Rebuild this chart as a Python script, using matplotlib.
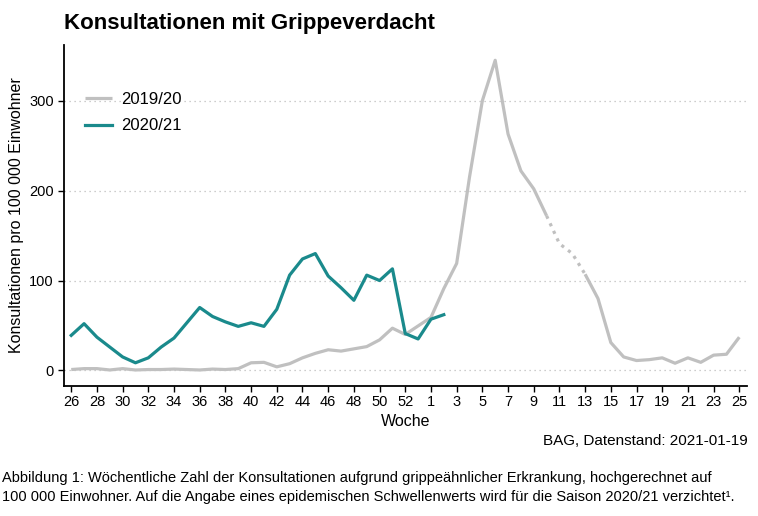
import matplotlib.pyplot as plt
import numpy as np

plt.rcParams['font.family'] = ['Liberation Sans', 'DejaVu Sans']

# Wochenachse (Saison 2020/21 mit Woche 53)
weeks = list(range(26, 54)) + list(range(1, 26))
tick_weeks = list(range(26, 53, 2)) + list(range(1, 26, 2))

# Saison 2019/20 (ohne Woche 53)
weeks_1920 = list(range(26, 53)) + list(range(1, 26))
vals_1920 = [1, 2, 2, 0.5, 2, 0.5, 1, 1, 1.5, 1, 0.5, 1.5, 1, 2,
             8.5, 9, 4, 7.5, 14, 19, 23, 21.5, 24, 26.5, 34, 47, 40,
             59, 91, 119, 215, 300, 345, 263, 222, 202, 172, 141, 130, 107,
             80, 31, 15, 11, 12, 14, 8, 14, 9, 17, 18, 37]
dotted_weeks = [10, 11, 12, 13]

# Saison 2020/21
weeks_2021 = list(range(26, 54)) + [1, 2]
vals_2021 = [39, 52, 37, 26, 15, 8.5, 14, 26, 36, 53, 70, 60, 54, 49, 53, 49,
             68, 106, 124, 130, 105, 92, 78, 106, 100, 113, 41, 35, 57, 62]

grey = '#C0C0C0'
teal = '#1A8A8C'

pos = {w: i for i, w in enumerate(weeks)}
x1920 = np.array([pos[w] for w in weeks_1920], dtype=float)
y1920 = np.array(vals_1920, dtype=float)
dot_mask = np.isin(weeks_1920, dotted_weeks)
i0 = weeks_1920.index(dotted_weeks[0])
i1 = weeks_1920.index(dotted_weeks[-1])

fig = plt.figure(figsize=(7.58, 5.16), dpi=100)
ax = fig.add_axes([0.0838, 0.2525, 0.9017, 0.6603])

ax.plot(x1920[:i0 + 1], y1920[:i0 + 1], color=grey, lw=2.3, solid_capstyle='butt', label='2019/20')
ax.plot(x1920[i1:], y1920[i1:], color=grey, lw=2.3, solid_capstyle='butt')
ax.plot(x1920[dot_mask], y1920[dot_mask], color=grey, lw=2.3, linestyle=(0, (1, 1.6)))
ax.plot([pos[w] for w in weeks_2021], vals_2021, color=teal, lw=2.3, label='2020/21')

ax.set_xlim(-0.6, len(weeks) - 0.4)
ax.set_ylim(-17, 362)
ax.set_yticks([0, 100, 200, 300])
ax.set_xticks([pos[w] for w in tick_weeks])
ax.set_xticklabels([str(w) for w in tick_weeks])
ax.tick_params(labelsize=10.5, length=4, width=1, color='black', pad=3)
ax.grid(axis='y', linestyle=(0, (1, 3)), color='#BDBDBD', lw=0.9)
ax.set_axisbelow(True)
for s in ['top', 'right']:
    ax.spines[s].set_visible(False)
for s in ['left', 'bottom']:
    ax.spines[s].set_linewidth(1.3)

ax.set_xlabel('Woche', fontsize=11.5, labelpad=3)
ax.set_ylabel('Konsultationen pro 100 000 Einwohner', fontsize=11.5, labelpad=4)

leg = ax.legend(loc='upper left', bbox_to_anchor=(0.009, 0.907), frameon=False, fontsize=12,
                handlelength=1.65, handletextpad=0.55, labelspacing=0.7)

fig.text(0.0845, 0.955, 'Konsultationen mit Grippeverdacht', fontsize=16, fontweight='bold', va='center')
fig.text(0.986, 0.145, 'BAG, Datenstand: 2021-01-19', fontsize=11, ha='right', va='center')
fig.text(0.003, 0.0736, 'Abbildung 1: Wöchentliche Zahl der Konsultationen aufgrund grippeähnlicher Erkrankung, hochgerechnet auf',
         fontsize=10.55, va='center')
fig.text(0.003, 0.0368, '100 000 Einwohner. Auf die Angabe eines epidemischen Schwellenwerts wird für die Saison 2020/21 verzichtet¹.',
         fontsize=10.55, va='center')

fig.savefig('out.png', dpi=100)
